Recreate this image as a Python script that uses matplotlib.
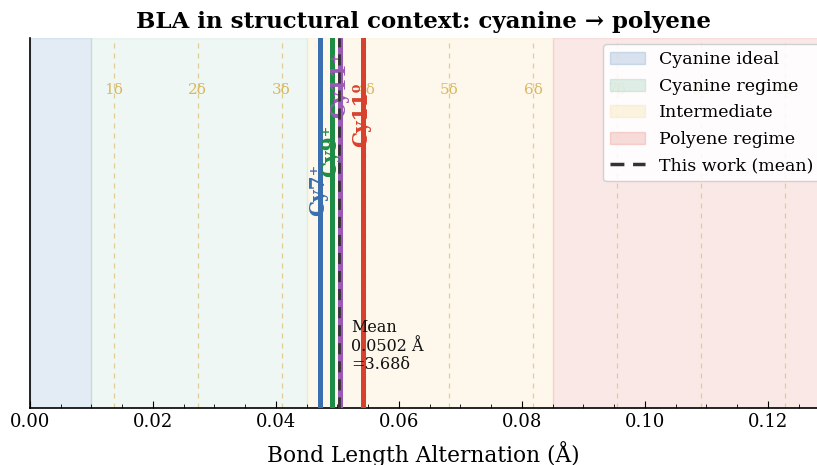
import matplotlib
matplotlib.use("Agg")
import matplotlib.pyplot as plt
from matplotlib.patches import Patch
from matplotlib.lines import Line2D
from matplotlib.ticker import MultipleLocator

plt.rcParams['font.family'] = ['DejaVu Serif']

# BLA values (Å) for each dye
species = ["Cy7⁺", "Cy9⁺", "Cy11⁺", "Cy11⁰"]
bla_values = [0.0471, 0.0491, 0.0505, 0.0541]
species_colors = ["#3a70b0", "#1f8c45", "#9b59b6", "#d9412f"]
label_heights = [0.52, 0.625, 0.785, 0.705]

mean_bla = 0.0502
delta_ratio = 3.68
delta = mean_bla / delta_ratio

# structural regimes
regime_names = ["Cyanine ideal", "Cyanine regime", "Intermediate", "Polyene regime"]
regime_bounds = [(0.0, 0.010), (0.010, 0.045), (0.045, 0.085), (0.085, 0.20)]
regime_colors = ["#2b6cb0", "#2ca26a", "#f0c040", "#d73027"]
regime_alpha = [0.13, 0.08, 0.10, 0.11]

delta_multiples = [1, 2, 3, 4, 5, 6, 7, 8, 9]

fig = plt.figure(figsize=(8.17, 4.65), dpi=100)
ax = fig.add_axes([0.0367, 0.1226, 0.9633, 0.7955])

for (lo, hi), c, a in zip(regime_bounds, regime_colors, regime_alpha):
    ax.axvspan(lo, hi, color=c, alpha=a, zorder=0)

for k in delta_multiples:
    x = k * delta
    ax.axvline(x, color="#d9b860", lw=0.9, ls=(0, (4, 4)), alpha=0.65, zorder=1)
    ax.text(x, 0.86, f"{k}δ", color="#d9b860", fontsize=11, ha="center",
            va="center", zorder=1)

for name, val, c, h in zip(species, bla_values, species_colors, label_heights):
    ax.axvline(val, color=c, lw=3.6, zorder=3)
    ax.text(val - 0.0003, h, name, color=c, fontsize=14.5, fontweight="bold",
            rotation=90, ha="center", va="bottom", zorder=4)

ax.axvline(mean_bla, color="#333333", lw=2, ls=(0, (4, 2.5)), zorder=5)
ax.text(mean_bla + 0.002, 0.24, f"Mean\n{mean_bla:.4f} Å\n={delta_ratio:.2f}δ",
        fontsize=11.5, ha="left", va="top", color="#111111", linespacing=1.1,
        zorder=6)

ax.set_xlim(0, 0.128)
ax.set_ylim(0, 1)
ax.set_yticks([])
ax.xaxis.set_major_locator(MultipleLocator(0.02))
ax.xaxis.set_minor_locator(MultipleLocator(0.005))
ax.tick_params(axis="x", which="major", direction="in", length=5, labelsize=13)
ax.tick_params(axis="x", which="minor", direction="in", length=3)
ax.set_xticklabels([f"{t:.2f}" for t in ax.get_xticks()])
for s in ["top", "right"]:
    ax.spines[s].set_visible(False)
ax.spines["left"].set_linewidth(1.2)
ax.spines["bottom"].set_linewidth(1.2)

ax.set_xlabel("Bond Length Alternation (Å)", fontsize=15.6, labelpad=7.5)
ax.set_title("BLA in structural context: cyanine → polyene", fontsize=16.5,
             fontweight="bold", pad=7)

handles = [Patch(facecolor=c, edgecolor=c, alpha=max(a, 0.1) + 0.05)
           for c, a in zip(regime_colors, regime_alpha)]
handles.append(Line2D([0], [0], color="#333333", lw=2.5, ls=(0, (4, 2.5))))
leg = ax.legend(handles, regime_names + ["This work (mean)"], loc="upper right",
                bbox_to_anchor=(1.004, 0.983), borderaxespad=0,
                fontsize=12.5, framealpha=0.88, handlelength=2.0,
                labelspacing=0.55)
leg.set_zorder(10)

fig.savefig("out.png", dpi=100)
